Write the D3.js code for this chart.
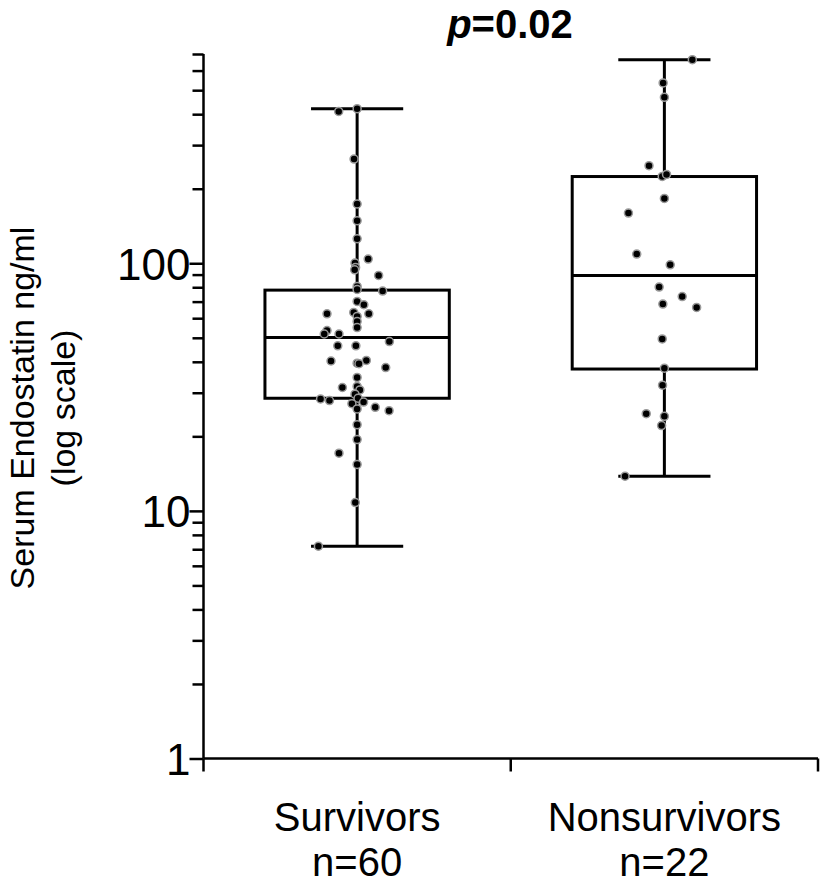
<!DOCTYPE html>
<meta charset="utf-8">
<style>
  body { margin: 0; background: #fff; }
  text { font-family: "Liberation Sans", Arial, Helvetica, sans-serif; fill: #000; }
  .box { fill: none; stroke: #000; stroke-width: 3px; }
  .dot { fill: #000; stroke: #9a9a9a; stroke-width: 1.5px; }
</style>

<svg width="820" height="885"></svg>
<script src="https://cdn.jsdelivr.net/npm/d3@7"></script>

<script>
const svg = d3.select("svg");

const groups = ["Survivors", "Nonsurvivors"];
const groupN = ["n=60", "n=22"];
const yTickLabels = [1, 10, 100];

// box stats (ng/ml)
const whiskerLow = [7.2, 13.8];
const q1 = [28.5, 37.4];
const median = [50.1, 89.3];
const q3 = [77.9, 224];
const whiskerHigh = [421, 664];

// individual values and their horizontal jitter (fraction of the band)
const survivorValues = [421, 410.5, 263.6, 173.5, 148.5, 125.6, 104.0, 100.2, 96.2, 94.1,
  89.3, 80.6, 78.4, 77.2, 70.1, 68.0, 62.5, 63.3, 62.5, 61.0,
  58.2, 55.0, 53.5, 51.8, 51.8, 48.3, 46.4, 46.4, 40.5, 40.3,
  39.5, 39.3, 37.9, 34.6, 31.8, 31.5, 30.8, 29.6, 28.5, 28.3,
  27.9, 27.5, 27.1, 26.2, 25.8, 25.4, 22.3, 19.4, 17.1, 15.4,
  10.8, 7.2];
const survivorJitter = [0, -0.06, -0.01, 0, 0, 0, 0.036, -0.007, -0.005, -0.008,
  0.07, 0, 0, 0.083, 0, 0.022, -0.098, -0.011, 0.038, 0,
  0, 0, -0.098, -0.107, -0.059, 0.105, -0.063, -0.004, 0.03, -0.085,
  0, 0.006, 0.093, 0, 0, -0.048, 0.009, -0.007, 0.003, -0.119,
  -0.09, 0.021, -0.017, 0.059, 0, 0.104, 0, 0, -0.059, 0,
  -0.006, -0.126];

const nonsurvivorValues = [664, 534.8, 467.8, 247.7, 224.2, 228.5, 182.7, 159.5, 108.9, 98.6,
  80.1, 73.4, 68.4, 66.3, 49.5, 37.7, 32.2, 24.7, 24.1, 22.1, 13.8];
const nonsurvivorJitter = [0.091, -0.004, 0, -0.05, -0.007, 0.007, 0, -0.117, -0.09, 0.019,
  -0.017, 0.058, -0.005, 0.105, -0.007, 0, -0.006, -0.059, 0, -0.009, -0.128];

const x = d3.scaleBand()
  .domain(groups)
  .range([203.5, 818])
  .padding(0);

const y = d3.scaleLog()
  .domain([1, 700])
  .range([758.5, 54]);

const bw = x.bandwidth();

// y axis: major ticks at decades, minor ticks between
const yAxis = d3.axisLeft(y)
  .tickValues(d3.range(1, 11).concat(d3.range(20, 101, 10), d3.range(200, 701, 100)))
  .tickFormat(d => yTickLabels.includes(d) ? d : "")
  .tickSize(11)
  .tickPadding(12);

const gy = svg.append("g")
  .attr("transform", "translate(203.5,0)")
  .call(yAxis);
gy.select(".domain").attr("stroke-width", 2.5).attr("d", `M0,${y(700)}V${y(1)}`);
gy.selectAll(".tick line").attr("stroke-width", 2.5)
  .attr("x2", d => yTickLabels.includes(d) ? -14 : -11);
gy.selectAll(".tick text")
  .attr("font-size", 44)
  .attr("font-family", "Liberation Sans, Arial, sans-serif")
  .attr("x", -13)
  .attr("dy", "0.36em");

// x axis: line with ticks at the band edges
const gx = svg.append("g")
  .attr("transform", "translate(0,758.5)");
gx.append("line")
  .attr("x1", x.range()[0]).attr("x2", x.range()[1])
  .attr("stroke", "#000").attr("stroke-width", 2.5);
gx.selectAll(".edge")
  .data([groups[0], groups[1], null])
  .enter().append("line")
  .attr("x1", d => d ? x(d) : x.range()[1])
  .attr("x2", d => d ? x(d) : x.range()[1])
  .attr("y1", 0).attr("y2", 13)
  .attr("stroke", "#000").attr("stroke-width", 2.5);

gx.selectAll(".cat")
  .data(groups)
  .enter().append("text")
  .attr("x", d => x(d) + bw / 2)
  .attr("y", 72)
  .attr("text-anchor", "middle")
  .attr("font-size", 40)
  .text(d => d);
gx.selectAll(".n")
  .data(groupN)
  .enter().append("text")
  .attr("x", (d, i) => x(groups[i]) + bw / 2)
  .attr("y", 117)
  .attr("text-anchor", "middle")
  .attr("font-size", 40)
  .text(d => d);

// boxes and whiskers
const boxes = svg.append("g");
groups.forEach((g, i) => {
  const cx = x(g) + bw / 2;
  const half = bw * 0.3, cap = bw * 0.15;
  boxes.append("line").attr("class", "box")
    .attr("x1", cx).attr("x2", cx).attr("y1", y(whiskerHigh[i])).attr("y2", y(q3[i]));
  boxes.append("line").attr("class", "box")
    .attr("x1", cx).attr("x2", cx).attr("y1", y(q1[i])).attr("y2", y(whiskerLow[i]));
  boxes.append("line").attr("class", "box")
    .attr("x1", cx - cap).attr("x2", cx + cap).attr("y1", y(whiskerHigh[i])).attr("y2", y(whiskerHigh[i]));
  boxes.append("line").attr("class", "box")
    .attr("x1", cx - cap).attr("x2", cx + cap).attr("y1", y(whiskerLow[i])).attr("y2", y(whiskerLow[i]));
  boxes.append("rect").attr("class", "box")
    .attr("x", cx - half).attr("width", half * 2)
    .attr("y", y(q3[i])).attr("height", y(q1[i]) - y(q3[i]));
  boxes.append("line").attr("class", "box")
    .attr("x1", cx - half).attr("x2", cx + half).attr("y1", y(median[i])).attr("y2", y(median[i]));
});

// points
const points = survivorValues.map((v, i) => ({ g: groups[0], v: v, j: survivorJitter[i] }))
  .concat(nonsurvivorValues.map((v, i) => ({ g: groups[1], v: v, j: nonsurvivorJitter[i] })));

svg.append("g")
  .selectAll("circle")
  .data(points)
  .enter().append("circle")
  .attr("class", "dot")
  .attr("cx", d => x(d.g) + bw / 2 + d.j * bw)
  .attr("cy", d => y(d.v))
  .attr("r", 4);

// y label
const yl = svg.append("text")
  .attr("transform", "translate(0,408) rotate(-90)")
  .attr("text-anchor", "middle")
  .attr("font-size", 34);
yl.append("tspan").attr("x", 0).attr("y", 34).text("Serum Endostatin ng/ml");
yl.append("tspan").attr("x", 0).attr("y", 75).text("(log scale)");

// title
const title = svg.append("text")
  .attr("x", 510)
  .attr("y", 38)
  .attr("text-anchor", "middle")
  .attr("font-size", 40)
  .attr("font-weight", "bold");
title.append("tspan").attr("font-style", "italic").text("p");
title.append("tspan").text("=0.02");
</script>
